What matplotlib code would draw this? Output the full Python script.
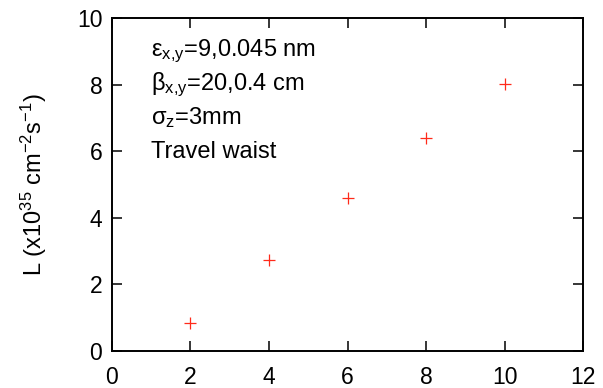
import matplotlib
matplotlib.use('Agg')
import matplotlib.pyplot as plt

plt.rcParams['font.family'] = ['Liberation Sans', 'DejaVu Sans']
plt.rcParams['mathtext.fontset'] = 'custom'
plt.rcParams['mathtext.rm'] = 'Liberation Sans'
plt.rcParams['mathtext.it'] = 'Liberation Sans'
plt.rcParams['mathtext.bf'] = 'Liberation Sans:bold'

x_vals = [2, 4, 6, 8, 10]
lumi = [0.83, 2.72, 4.59, 6.39, 8.02]
x_ticks = [0, 2, 4, 6, 8, 10, 12]
y_ticks = [0, 2, 4, 6, 8, 10]
notes = ['ε$_{x{,}y}$=9,0.045 nm', 'β$_{x{,}y}$=20,0.4 cm', 'σ$_{z}$=3mm', 'Travel waist']

fig = plt.figure(figsize=(6.03, 3.88), dpi=100)
ax = fig.add_axes([0.1857, 0.0954, 0.7813, 0.8574])

ax.plot(x_vals, lumi, linestyle='none', marker='+', color='#ff2a1a',
        markersize=8, markeredgewidth=0.9)

ax.set_xlim(0, 12)
ax.set_ylim(0, 10)
ax.set_xticks(x_ticks)
ax.set_yticks(y_ticks)
ax.tick_params(direction='in', length=7.5, width=1.1, top=True, right=True,
               labelsize=16.5)
ax.tick_params(axis='x', pad=11)
ax.tick_params(axis='y', pad=7)
for s in ax.spines.values():
    s.set_linewidth(1.4)

ax.set_ylabel('L (x10$^{35}$ cm$^{-2}$s$^{-1}$)', fontsize=17, labelpad=20)

for i, t in enumerate(notes):
    ax.text(0.082, 0.887 - i * 0.1027, t, transform=ax.transAxes, fontsize=17,
            va='baseline', ha='left')

fig.savefig('out.png', dpi=100)
